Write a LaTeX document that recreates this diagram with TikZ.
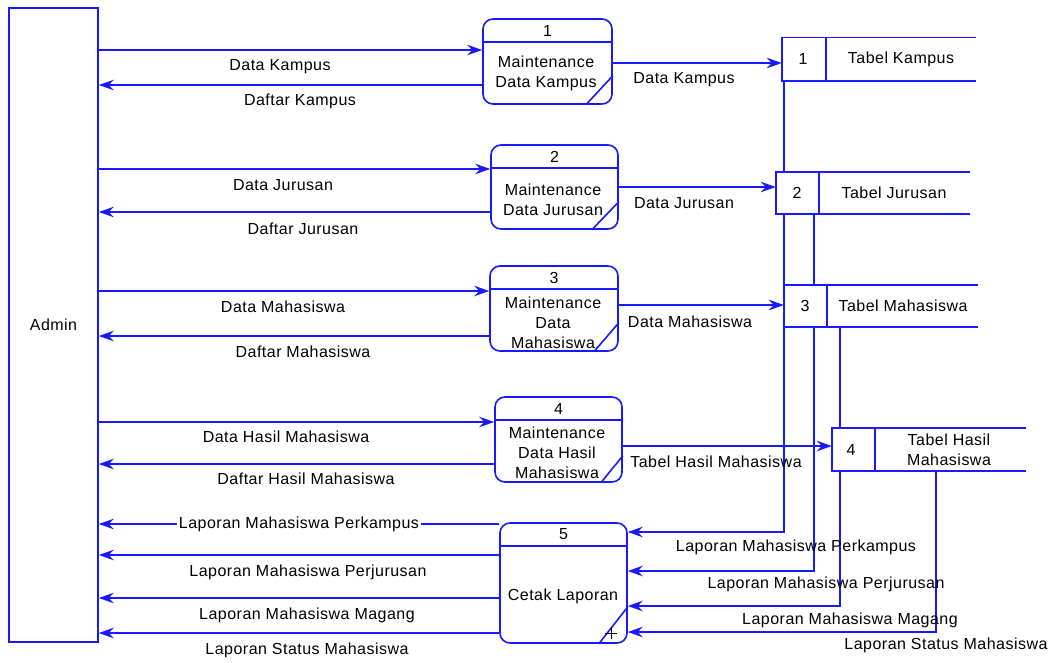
\documentclass[tikz,border=0pt]{standalone}
\usepackage{fontspec}
\setmainfont[LetterSpace=3]{Liberation Sans}
\usetikzlibrary{arrows.meta,calc}
\definecolor{dfd}{RGB}{25,25,255}
\begin{document}
\begin{tikzpicture}[x=1pt,y=-1pt,
  font=\fontsize{16}{20}\selectfont,
  line/.style={draw=dfd,line width=1.6pt},
  flow/.style={line,-{Stealth[length=15pt,width=10.5pt,inset=5pt]}},
  proc/.style={draw=dfd,line width=1.6pt,rounded corners=10pt,fill=white,inner sep=0pt},
  store/.style={fill=white,inner sep=0pt,minimum height=43pt},
  lbl/.style={inner sep=1pt,text=black},
]
\useasboundingbox (0,0) rectangle (1055,662);

% external entity
\node[draw=dfd,line width=1.6pt,minimum width=89pt,minimum height=634pt,inner sep=0pt] (admin) at (53.5,325) {Admin};

% processes
\node[proc,minimum width=129pt,minimum height=85pt] (p1) at (547.5,61.5) {};
\node[proc,minimum width=127pt,minimum height=84pt] (p2) at (554.5,187) {};
\node[proc,minimum width=128pt,minimum height=85pt] (p3) at (554,308.5) {};
\node[proc,minimum width=127pt,minimum height=85pt] (p4) at (558.5,439.5) {};
\node[proc,minimum width=127pt,minimum height=120pt] (p5) at (563.5,583) {};

\draw[line] (p1.west |- 0,42) -- (p1.east |- 0,42);
\draw[line] (p2.west |- 0,168) -- (p2.east |- 0,168);
\draw[line] (p3.west |- 0,289) -- (p3.east |- 0,289);
\draw[line] (p4.west |- 0,420) -- (p4.east |- 0,420);
\draw[line] (p5.west |- 0,546) -- (p5.east |- 0,546);

\node[lbl] (p1n) at (547.5,30.5) {1};
\node[lbl] (p2n) at (554.5,156.5) {2};
\node[lbl] (p3n) at (554,277.5) {3};
\node[lbl] (p4n) at (558.5,408.5) {4};
\node[lbl] (p5n) at (563.5,534.5) {5};

\node[lbl,align=center] (p1t) at (546,73) {Maintenance\\Data Kampus};
\node[lbl,align=center] (p2t) at (553,199.5) {Maintenance\\Data Jurusan};
\node[lbl,align=center] (p3t) at (553,323) {Maintenance\\Data\\Mahasiswa};
\node[lbl,align=center] (p4t) at (557,453) {Maintenance\\Data Hasil\\Mahasiswa};
\node[lbl] (p5t) at (563,596) {Cetak Laporan};

\draw[line] ($(p1.south east)+(-27,0)$) -- ($(p1.south east)+(0,-29)$);
\draw[line] ($(p2.south east)+(-27,0)$) -- ($(p2.south east)+(0,-28)$);
\draw[line] ($(p3.south east)+(-25,0)$) -- ($(p3.south east)+(0,-29)$);
\draw[line] ($(p4.south east)+(-22,0)$) -- ($(p4.south east)+(0,-27)$);
\draw[line] ($(p5.south east)+(-29,0)$) -- ($(p5.south east)+(0,-37)$);
\draw[black,line width=0.7pt] (605,633) -- (617,633) (611,627) -- (611,639);

% report flows from stores to process 5 (drawn behind the stores)
\draw[flow] (784,81) |- (p5.east |- 0,532);
\draw[flow] (814,214) |- (p5.east |- 0,571);
\draw[flow] (840,327) |- (p5.east |- 0,606);
\draw[flow] (936,471) |- (p5.east |- 0,632);

% data stores
\node[store,minimum width=194pt] (s1) at (879,59) {};
\node[store,minimum width=194pt,minimum height=42pt] (s2) at (873,193) {};
\node[store,minimum width=194pt,minimum height=42pt] (s3) at (881,306) {};
\node[store,minimum width=194pt] (s4) at (929,449.5) {};
\foreach \s/\d in {s1/44,s2/43,s3/43,s4/43}{
  \draw[line] (\s.north east) -- (\s.north west) -- (\s.south west) -- (\s.south east);
  \draw[line] ($(\s.north west)+(\d,0)$) -- ($(\s.south west)+(\d,0)$);
}
\node[lbl] (s1n) at (803,59) {1};
\node[lbl] (s1t) at (901,59) {Tabel Kampus};
\node[lbl] (s2n) at (797,193) {2};
\node[lbl] (s2t) at (894,193) {Tabel Jurusan};
\node[lbl] (s3n) at (805,306) {3};
\node[lbl] (s3t) at (903,306) {Tabel Mahasiswa};
\node[lbl] (s4n) at (851,449.5) {4};
\node[lbl,align=center] (s4t) at (949,449.5) {Tabel Hasil\\Mahasiswa};

% admin <-> processes
\draw[flow] (admin.east |- 0,50) -- (p1.west |- 0,50);
\draw[flow] (p1.west |- 0,85) -- (admin.east |- 0,85);
\draw[flow] (admin.east |- 0,169) -- (p2.west |- 0,169);
\draw[flow] (p2.west |- 0,212) -- (admin.east |- 0,212);
\draw[flow] (admin.east |- 0,291) -- (p3.west |- 0,291);
\draw[flow] (p3.west |- 0,336) -- (admin.east |- 0,336);
\draw[flow] (admin.east |- 0,422) -- (p4.west |- 0,422);
\draw[flow] (p4.west |- 0,464) -- (admin.east |- 0,464);
\draw[flow] (p5.west |- 0,524) -- node[lbl,fill=white,inner sep=2pt] (l5a) {Laporan Mahasiswa Perkampus} (admin.east |- 0,524);
\draw[flow] (p5.west |- 0,555) -- (admin.east |- 0,555);
\draw[flow] (p5.west |- 0,598) -- (admin.east |- 0,598);
\draw[flow] (p5.west |- 0,633) -- (admin.east |- 0,633);

\node[lbl] (l1a) at (280,67) {Data Kampus};
\node[lbl] (l1b) at (300,101) {Daftar Kampus};
\node[lbl] (l2a) at (283,185) {Data Jurusan};
\node[lbl] (l2b) at (303,229) {Daftar Jurusan};
\node[lbl] (l3a) at (283,307) {Data Mahasiswa};
\node[lbl] (l3b) at (303,352) {Daftar Mahasiswa};
\node[lbl] (l4a) at (286,437) {Data Hasil Mahasiswa};
\node[lbl] (l4b) at (306,479) {Daftar Hasil Mahasiswa};
\node[lbl] (l5b) at (308,572) {Laporan Mahasiswa Perjurusan};
\node[lbl] (l5c) at (307,615) {Laporan Mahasiswa Magang};
\node[lbl] (l5d) at (307,650) {Laporan Status Mahasiswa};

% processes -> stores
\draw[flow] (p1.east |- 0,63) -- (s1.west |- 0,63);
\draw[flow] (p2.east |- 0,187) -- (s2.west |- 0,187);
\draw[flow] (p3.east |- 0,305) -- (s3.west |- 0,305);
\draw[flow] (p4.east |- 0,446) -- (s4.west |- 0,446);
\node[lbl] (m1) at (684,80) {Data Kampus};
\node[lbl] (m2) at (684,203) {Data Jurusan};
\node[lbl] (m3) at (690,322) {Data Mahasiswa};
\node[lbl] (m4) at (716,462) {Tabel Hasil Mahasiswa};

\node[lbl] (r1) at (796,547) {Laporan Mahasiswa Perkampus};
\node[lbl] (r2) at (826,584) {Laporan Mahasiswa Perjurusan};
\node[lbl] (r3) at (850,620) {Laporan Mahasiswa Magang};
\node[lbl] (r4) at (946,645) {Laporan Status Mahasiswa};
\end{tikzpicture}
\end{document}
